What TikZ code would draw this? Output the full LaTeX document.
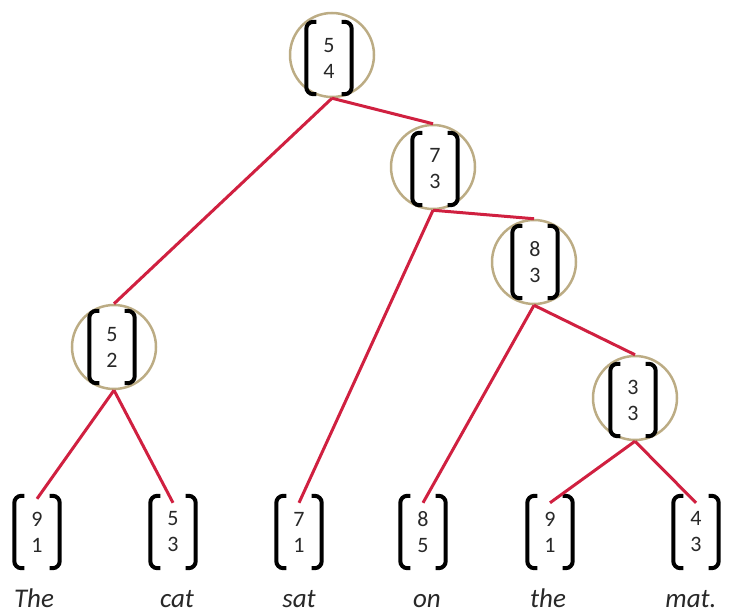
\documentclass[tikz,border=0pt]{standalone}
\usepackage{fontspec}
\setmainfont{Carlito}
\definecolor{edgered}{RGB}{208,32,64}
\definecolor{ringtan}{RGB}{188,172,132}
\definecolor{txt}{RGB}{40,40,40}
\begin{document}
\begin{tikzpicture}[x=1pt,y=-1pt,
  ring/.style={circle, draw=ringtan, line width=2.5pt, minimum size=84pt, inner sep=0pt},
  vec/.style={rectangle, minimum width=45pt, minimum height=72pt, inner sep=0pt, align=center, text=txt, font=\fontsize{22}{26}\selectfont},
  edge/.style={draw=edgered, line width=3pt},
  word/.style={anchor=base, inner sep=0pt, text=txt, font=\fontsize{27}{30}\selectfont\itshape},
  brk/.style={line width=4pt, rounded corners=7pt}]
\useasboundingbox (0,0) rectangle (731,615);

% internal nodes (rings)
\node[ring] (r)   at (332,55)  {};
\node[ring] (c73) at (433,167) {};
\node[ring] (c83) at (534,262) {};
\node[ring] (c52) at (114,347) {};
\node[ring] (c33) at (635,398) {};

% vectors inside rings
\node[vec] (rv)  at (329,58)  {5\\4};
\node[vec] (v73) at (435,169) {7\\3};
\node[vec] (v83) at (535,262) {8\\3};
\node[vec] (v52) at (112,347) {5\\2};
\node[vec] (v33) at (633,400) {3\\3};

% leaves
\node[vec] (l1) at (37,532)  {9\\1};
\node[vec] (l2) at (173,532) {5\\3};
\node[vec] (l3) at (299,532) {7\\1};
\node[vec] (l4) at (423,532) {8\\5};
\node[vec] (l5) at (550,532) {9\\1};
\node[vec] (l6) at (696,532) {4\\3};

% words
\node[word] (w1) at (34,607)  {The};
\node[word] (w2) at (177,607) {cat};
\node[word] (w3) at (299,607) {sat};
\node[word] (w4) at (427,607) {on};
\node[word] (w5) at (548,607) {the};
\node[word] (w6) at (691,607) {mat.};

% brackets
\foreach \n in {rv,v73,v83,v52,v33,l1,l2,l3,l4,l5,l6} {
  \draw[brk] ([xshift=10pt]\n.north west) -- (\n.north west) -- (\n.south west) -- ([xshift=10pt]\n.south west);
  \draw[brk] ([xshift=-10pt]\n.north east) -- (\n.north east) -- (\n.south east) -- ([xshift=-10pt]\n.south east);
}

% edges
\draw[edge] (r.south) -- (c52.north);
\draw[edge] (r.south) -- (c73.north);
\draw[edge] (c73.south) -- (c83.north);
\draw[edge] (c83.south) -- (c33.north);
\draw[edge] (c52.south) -- ([yshift=-3pt]l1.north);
\draw[edge] (c52.south) -- ([yshift=-7pt]l2.north);
\draw[edge] (c73.south) -- ([yshift=-7pt]l3.north);
\draw[edge] (c83.south) -- ([yshift=-7pt]l4.north);
\draw[edge] (c33.south) -- ([yshift=-7pt]l5.north);
\draw[edge] (c33.south) -- ([yshift=-7pt]l6.north);
\end{tikzpicture}
\end{document}
